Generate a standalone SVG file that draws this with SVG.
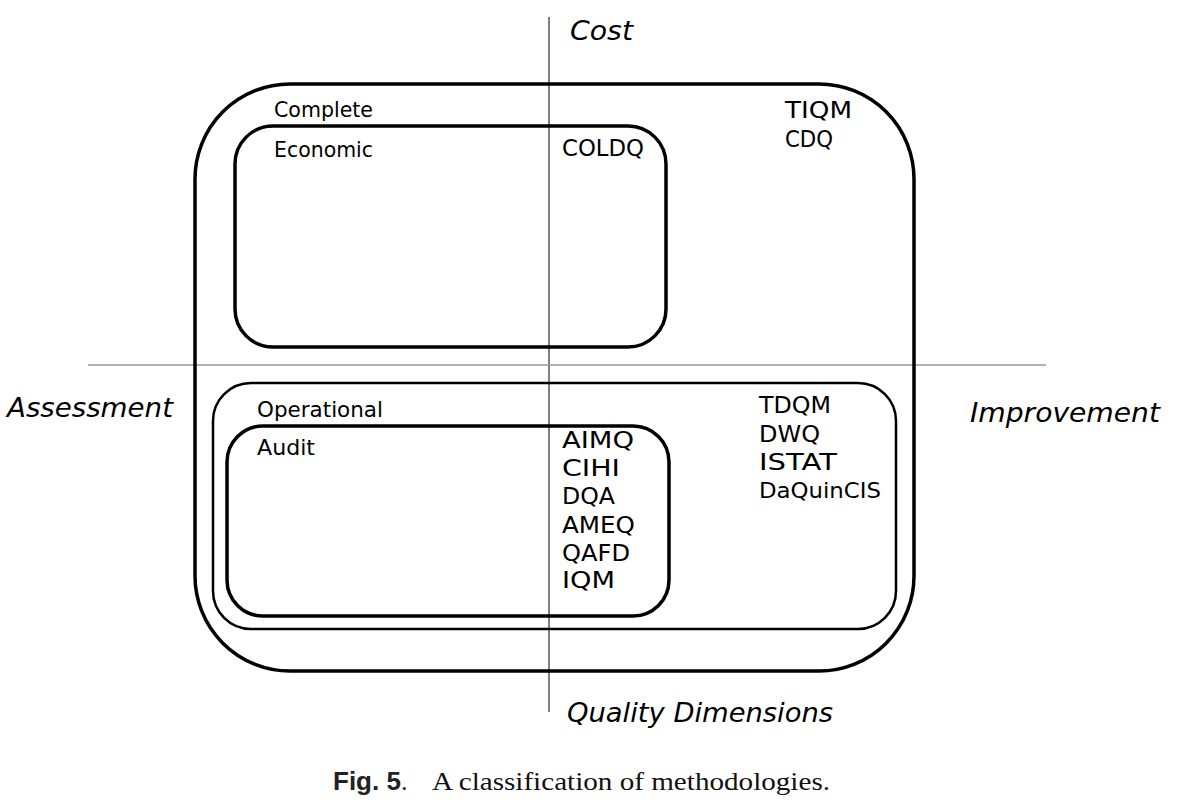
<svg xmlns="http://www.w3.org/2000/svg" width="1194" height="806" viewBox="0 0 1194 806">
<style>
.box{fill:none;stroke:#000;stroke-width:3.5}
.thin{fill:none;stroke:#000;stroke-width:2.5}
.axis{stroke:#555;stroke-width:1.5}
.axis2{stroke:#999;stroke-width:1.5}
.t{font-family:"DejaVu Sans",sans-serif;font-size:21px;fill:#000}
.c{font-family:"DejaVu Sans",sans-serif;font-size:23px;fill:#000}
.ax{font-family:"DejaVu Sans",sans-serif;font-style:italic;font-size:27px;fill:#000}
.cap1{font-family:"Liberation Sans",Arial,sans-serif;font-weight:bold;font-size:26px;fill:#222}
.cap2{font-family:"Liberation Serif","Times New Roman",serif;font-size:26px;fill:#111}
</style>
<rect width="1194" height="806" fill="#fff"/>
<g id="axes">
<line class="axis" x1="549" y1="17" x2="549" y2="712"/>
<line class="axis2" x1="88" y1="365" x2="1046" y2="365"/>
</g>
<g id="complete">
<rect class="box" x="195" y="84" width="719" height="587" rx="95" ry="95"/>
<text class="t" x="274" y="117" textLength="99" lengthAdjust="spacingAndGlyphs">Complete</text>
<text class="c" x="785" y="118" textLength="67" lengthAdjust="spacingAndGlyphs">TIQM</text>
<text class="c" x="785" y="147" textLength="48" lengthAdjust="spacingAndGlyphs">CDQ</text>
</g>
<g id="economic">
<rect class="box" x="235" y="126" width="431" height="221" rx="38" ry="38"/>
<text class="t" x="274" y="157" textLength="99" lengthAdjust="spacingAndGlyphs">Economic</text>
<text class="c" x="562" y="156" textLength="82" lengthAdjust="spacingAndGlyphs">COLDQ</text>
</g>
<g id="operational">
<rect class="thin" x="213" y="383" width="683" height="246" rx="38" ry="38"/>
<text class="t" x="257" y="417" textLength="126" lengthAdjust="spacingAndGlyphs">Operational</text>
<text class="c" x="759" y="413" textLength="72" lengthAdjust="spacingAndGlyphs">TDQM</text>
<text class="c" x="759" y="442" textLength="61" lengthAdjust="spacingAndGlyphs">DWQ</text>
<text class="c" x="759" y="470" textLength="78" lengthAdjust="spacingAndGlyphs">ISTAT</text>
<text class="t" x="759" y="498" textLength="122" lengthAdjust="spacingAndGlyphs">DaQuinCIS</text>
</g>
<g id="audit">
<rect class="box" x="227" y="426" width="442" height="190" rx="36" ry="36"/>
<text class="t" x="257" y="455" textLength="58" lengthAdjust="spacingAndGlyphs">Audit</text>
<text class="c" x="562" y="448" textLength="72" lengthAdjust="spacingAndGlyphs">AIMQ</text>
<text class="c" x="562" y="476" textLength="58" lengthAdjust="spacingAndGlyphs">CIHI</text>
<text class="c" x="562" y="504" textLength="53" lengthAdjust="spacingAndGlyphs">DQA</text>
<text class="c" x="562" y="533" textLength="73" lengthAdjust="spacingAndGlyphs">AMEQ</text>
<text class="c" x="562" y="561" textLength="68" lengthAdjust="spacingAndGlyphs">QAFD</text>
<text class="c" x="562" y="588" textLength="53" lengthAdjust="spacingAndGlyphs">IQM</text>
</g>
<g id="axis-labels">
<text class="ax" x="570" y="40" textLength="63" lengthAdjust="spacingAndGlyphs">Cost</text>
<text class="ax" x="7" y="417" textLength="166" lengthAdjust="spacingAndGlyphs">Assessment</text>
<text class="ax" x="970" y="422" textLength="190" lengthAdjust="spacingAndGlyphs">Improvement</text>
<text class="ax" x="567" y="722" textLength="266" lengthAdjust="spacingAndGlyphs">Quality Dimensions</text>
</g>
<g id="caption">
<text class="cap1" x="333" y="790">Fig. 5<tspan class="cap2" font-weight="normal">.</tspan></text>
<text class="cap2" x="432" y="790" textLength="398" lengthAdjust="spacingAndGlyphs">A classification of methodologies.</text>
</g>
</svg>
